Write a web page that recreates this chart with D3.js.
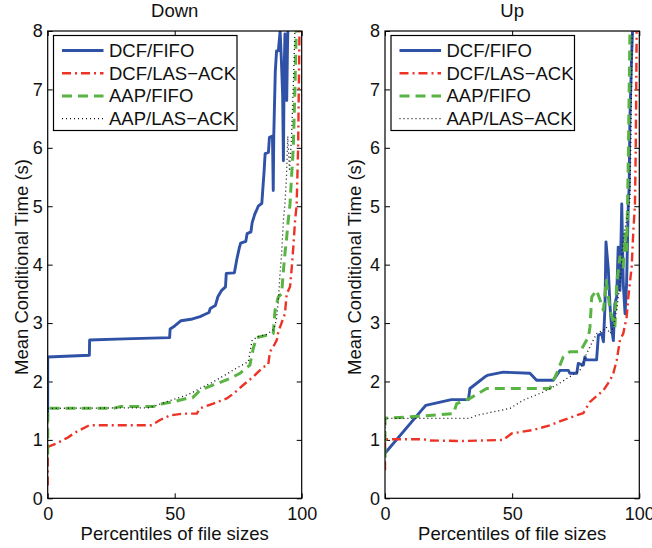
<!DOCTYPE html>
<html>
<head>
<meta charset="utf-8">
<script src="https://cdn.jsdelivr.net/npm/d3@7/dist/d3.min.js"></script>
<style>
  html, body { margin: 0; padding: 0; background: #fff; }
  svg text { font-family: "Liberation Sans", Arial, Helvetica, sans-serif; fill: #111; }
</style>
</head>
<body>
<svg id="chart" width="652" height="548"></svg>
<script>
// Mean conditional completion time vs. percentile of file size.
// Each series is a list of [percentile, seconds] points.

const seriesNames = ["DCF/FIFO", "DCF/LAS\u2212ACK", "AAP/FIFO", "AAP/LAS\u2212ACK"];
const panelTitles = ["Down", "Up"];
const xTicks = [0, 50, 100];
const yTicks = [0, 1, 2, 3, 4, 5, 6, 7, 8];

// --- Down ---
const downDcfFifo = [[0,1.35],[0,2.42],[16.4,2.45],[16.5,2.71],[30,2.73],[48,2.75],[48.2,2.9],[50,2.95],[52.5,3.04],[57,3.07],[60,3.11],[62,3.15],[63.5,3.18],[64,3.25],[66,3.3],[67,3.45],[68.5,3.56],[70,3.62],[70.3,3.85],[73.5,3.86],[74.5,4.1],[75.5,4.3],[76,4.37],[78,4.4],[78.5,4.53],[80,4.56],[80.5,4.72],[81.5,4.86],[82.9,5.0],[84.3,5.05],[85.2,5.6],[85.6,5.9],[86.9,5.92],[87.3,6.18],[88.5,6.2],[88.8,5.27],[89.0,6.2],[89.6,7.3],[90.1,7.66],[90.8,7.66],[91.5,8.0],[92,7.5],[92.5,6.9],[92.8,5.78],[93.1,7.3],[93.4,7.95],[93.8,7.4],[94.1,6.81],[94.4,7.7],[94.7,8.3]];
const downDcfLas = [[0,0.22],[0,0.88],[3.5,0.94],[7.5,1.03],[11.4,1.14],[16.4,1.25],[30,1.25],[40.9,1.25],[44.2,1.34],[48.2,1.42],[53.4,1.45],[58.7,1.45],[59.9,1.54],[65.2,1.62],[70.5,1.71],[73.1,1.79],[77,1.94],[80.9,2.08],[84.9,2.25],[86.8,2.28],[87.5,2.51],[88.8,2.59],[90.2,2.71],[90.8,2.85],[93.4,3.16],[94.1,3.5],[95.4,3.62],[96.1,3.96],[96.7,4.3],[97.4,4.76],[98,5.01],[98.3,5.5],[98.6,6.01],[98.8,6.8],[99,7.5],[99.2,8.3]];
const downAapFifo = [[0,0.75],[0,1.54],[25.9,1.54],[28.5,1.57],[41.6,1.57],[44.2,1.61],[49.4,1.65],[54.7,1.71],[57,1.72],[60,1.85],[65.2,1.94],[71.8,2.05],[75.7,2.14],[79.6,2.28],[80.9,2.56],[82.2,2.75],[86.2,2.79],[88.8,2.82],[89.5,3.22],[90.8,3.45],[92.1,3.5],[92.8,3.9],[93.4,4.19],[94.1,4.47],[94.7,4.76],[95.4,5.04],[96.0,5.5],[96.7,6.01],[97.2,6.8],[97.6,7.5],[98,8.3]];
const downAapLas = [[0,1.2],[0,1.54],[40,1.55],[48,1.67],[55,1.77],[60,1.88],[65,1.99],[71,2.14],[74,2.22],[79,2.34],[80.5,2.71],[83,2.77],[86,2.8],[89,2.89],[90,3.05],[90.8,3.39],[91.5,3.87],[92.1,4.19],[92.8,4.76],[93.4,5.04],[94,5.5],[94.5,6.2],[95.2,5.6],[96,6.2],[96.8,7.2],[97.5,8.3]];

// --- Up ---
const upDcfFifo = [[0,0.77],[14.4,1.51],[16,1.59],[26.1,1.69],[32.8,1.69],[33.4,1.88],[39.3,2.08],[40.6,2.11],[46.5,2.16],[57,2.14],[59.6,2.02],[66.2,2.02],[68.8,2.19],[72.1,2.19],[72.7,2.14],[75.4,2.14],[76,2.31],[78,2.28],[78.6,2.42],[79.2,2.37],[83.2,2.37],[83.9,2.79],[85.2,2.82],[85.9,2.68],[86.5,3.28],[86.9,4.39],[87.8,3.93],[88.5,3.28],[89.2,2.88],[89.8,2.7],[90.4,3.33],[91.1,3.45],[91.7,4.3],[92.4,3.56],[93.1,5.04],[93.7,3.67],[94.4,3.16],[95,3.67],[95.7,5.1],[96.0,5.3],[96.3,6.47],[97,7.61],[97.6,8.3]];
const upDcfLas = [[0,0.48],[0,1.01],[15.1,1.01],[17.7,0.99],[30.8,0.98],[46.5,1.0],[49.8,1.11],[58.3,1.17],[64.9,1.25],[70.1,1.34],[78,1.46],[80.6,1.65],[85.9,1.85],[88.5,2.02],[89.8,2.14],[91.1,2.36],[92.4,2.71],[93.7,2.82],[95,3.1],[95.7,3.45],[97,3.96],[97.6,4.53],[98.3,5.04],[98.6,6],[98.8,7],[99,8.3]];
const upAapFifo = [[0,0.7],[0,1.37],[15.1,1.41],[26.9,1.45],[28.2,1.62],[33.4,1.71],[40,1.88],[50,1.88],[64.9,1.88],[67.5,2.14],[70.1,2.42],[72.7,2.51],[76.7,2.51],[80,2.76],[80.6,2.93],[81.3,3.45],[83.2,3.56],[84.6,3.39],[85.9,3.22],[87,3.73],[88.5,3.22],[90.4,2.93],[91.1,3.67],[92.4,4.13],[93.7,3.96],[94.4,4.53],[95,4.25],[95.4,5.1],[95.7,5.9],[96.3,7.95],[96.5,8.3]];
const upAapLas = [[0,1.0],[0,1.37],[33.4,1.37],[36,1.42],[49.2,1.54],[54.4,1.68],[62.3,1.82],[67.5,1.94],[71.5,2.05],[76.7,2.19],[79.3,2.48],[83.2,2.82],[85.9,2.88],[87,2.93],[88.5,2.82],[89.8,2.93],[91.1,3.22],[92.4,3.67],[93.7,4.47],[95,4.76],[96.3,5.1],[96.8,6.5],[97.3,8.3]];

// Line styles per series (same order as seriesNames)
const styles = [
  { color: "#2f52a6", width: 2.9, dash: null },
  { color: "#ec3326", width: 2.4, dash: "9,4,2,4" },
  { color: "#5ab443", width: 3, dash: "10,6" },
  { color: "#111111", width: 1.3, dash: "1,3" }
];

const panels = [
  { title: panelTitles[0], data: [downDcfFifo, downDcfLas, downAapFifo, downAapLas],
    left: 47.7, right: 301.7, ylabelX: 27.5, legendX: 53.5 },
  { title: panelTitles[1], data: [upDcfFifo, upDcfLas, upAapFifo, upAapLas],
    left: 385, right: 639.3, ylabelX: 360.5, legendX: 391 }
];

const plotTop = 31, plotBottom = 498.3;
const svg = d3.select("#chart");
const font = 18.5;

panels.forEach((p, pi) => {
  const x = d3.scaleLinear().domain([0, 100]).range([p.left, p.right]);
  const y = d3.scaleLinear().domain([0, 8]).range([plotBottom, plotTop]);
  const g = svg.append("g");

  const clipId = "clip" + pi;
  svg.append("clipPath").attr("id", clipId)
    .append("rect").attr("x", p.left).attr("y", plotTop)
    .attr("width", p.right - p.left).attr("height", plotBottom - plotTop);

  // Axes: ticks point inward on all four sides
  const xb = g.append("g").attr("transform", `translate(0,${plotBottom})`)
    .call(d3.axisBottom(x).tickValues(xTicks).tickSizeInner(-5).tickSizeOuter(0).tickPadding(9));
  const xt = g.append("g").attr("transform", `translate(0,${plotTop})`)
    .call(d3.axisTop(x).tickValues(xTicks).tickSizeInner(-5).tickSizeOuter(0).tickFormat(""));
  const yl = g.append("g").attr("transform", `translate(${p.left},0)`)
    .call(d3.axisLeft(y).tickValues(yTicks).tickSizeInner(-5).tickSizeOuter(0).tickPadding(5));
  const yr = g.append("g").attr("transform", `translate(${p.right},0)`)
    .call(d3.axisRight(y).tickValues(yTicks).tickSizeInner(-5).tickSizeOuter(0).tickFormat(""));
  [xb, xt, yl, yr].forEach(a => {
    a.select(".domain").remove();
    a.selectAll("line").attr("stroke", "#000").attr("stroke-width", 1);
    a.selectAll("text").attr("font-size", 18).attr("font-family", null).attr("fill", "#111");
  });

  // Series lines
  const line = d3.line().x(d => x(d[0])).y(d => y(d[1]));
  const lines = g.append("g").attr("clip-path", `url(#${clipId})`);
  p.data.forEach((s, i) => {
    const st = styles[i];
    lines.append("path").datum(s)
      .attr("d", line)
      .attr("fill", "none")
      .attr("stroke", st.color)
      .attr("stroke-width", st.width)
      .attr("stroke-linejoin", "round")
      .attr("stroke-dasharray", st.dash);
  });

  // Frame
  g.append("rect").attr("x", p.left).attr("y", plotTop)
    .attr("width", p.right - p.left).attr("height", plotBottom - plotTop)
    .attr("fill", "none").attr("stroke", "#000").attr("stroke-width", 1.2);

  // Title and axis labels
  const cx = (p.left + p.right) / 2;
  g.append("text").attr("x", cx).attr("y", 17).attr("text-anchor", "middle")
    .attr("font-size", font).text(p.title);
  g.append("text").attr("x", cx).attr("y", 540).attr("text-anchor", "middle")
    .attr("font-size", font).text("Percentiles of file sizes");
  g.append("text")
    .attr("transform", `translate(${p.ylabelX},267) rotate(-90)`)
    .attr("text-anchor", "middle").attr("font-size", font)
    .text("Mean Conditional Time (s)");

  // Legend
  const lg = g.append("g").attr("transform", `translate(${p.legendX},35.5)`);
  lg.append("rect").attr("width", 183.5).attr("height", 95)
    .attr("fill", "#fff").attr("stroke", "#000").attr("stroke-width", 1.2);
  seriesNames.forEach((name, i) => {
    const ry = 15 + i * 22.7;
    const st = styles[i];
    lg.append("line").attr("x1", 8.5).attr("x2", 50).attr("y1", ry).attr("y2", ry)
      .attr("stroke", st.color).attr("stroke-width", st.width)
      .attr("stroke-dasharray", st.dash);
    lg.append("text").attr("x", 55.5).attr("y", ry).attr("dy", "0.35em")
      .attr("font-size", font).text(name);
  });
});
</script>
</body>
</html>
